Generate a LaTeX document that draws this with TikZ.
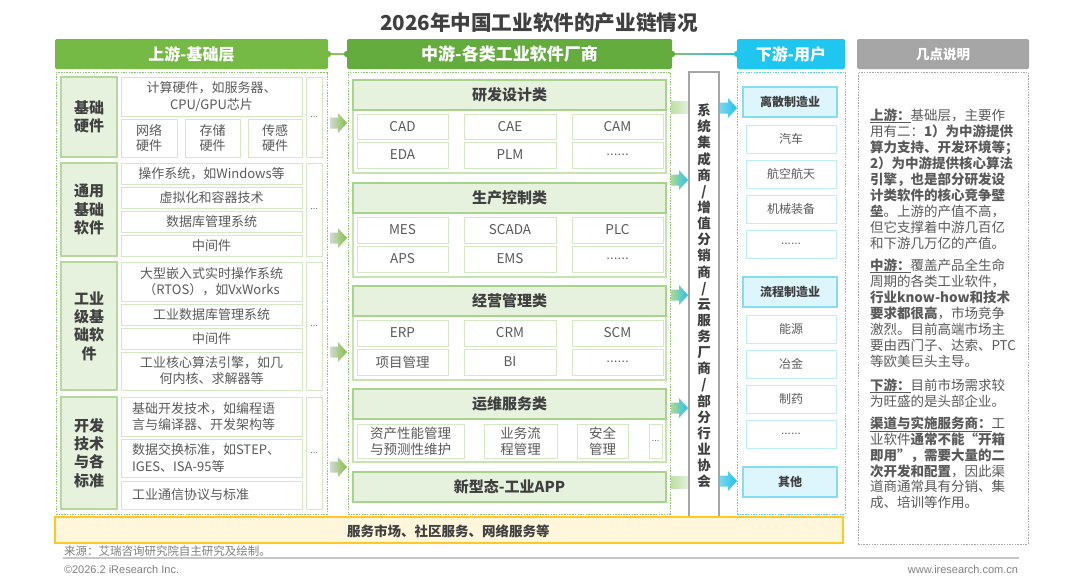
\documentclass[tikz,border=0pt]{standalone}
\usepackage{fontspec}
\setmainfont{Noto Sans CJK SC}
\newfontfamily\latinf{Liberation Sans}
\definecolor{upg}{HTML}{74BA45}
\definecolor{midg}{HTML}{63AC3D}
\definecolor{cyanh}{HTML}{1EC6F0}
\definecolor{grayh}{HTML}{A6A6A6}
\definecolor{txt}{HTML}{5A5A5A}
\definecolor{txtd}{HTML}{404040}
\definecolor{labfill}{HTML}{E6F2DD}
\definecolor{labdraw}{HTML}{B4D99B}
\definecolor{cdraw}{HTML}{D2E9C2}
\definecolor{mcdraw}{HTML}{C6E3B0}
\definecolor{mhfill}{HTML}{E6F2DE}
\definecolor{mhdraw}{HTML}{A8D38B}
\definecolor{dhfill}{HTML}{DDF5FD}
\definecolor{dhdraw}{HTML}{86DCF4}
\definecolor{ddraw}{HTML}{BDEEFA}
\definecolor{ylfill}{HTML}{FFF6DB}
\definecolor{yldraw}{HTML}{FFC825}
\definecolor{dotg}{HTML}{8FC46F}
\definecolor{dotc}{HTML}{55CFF0}
\definecolor{srcg}{HTML}{7F7F7F}
\definecolor{rulec}{HTML}{C8C8C8}
\definecolor{arrgray}{HTML}{D6D6D6}
\definecolor{arrgreen}{HTML}{7FC241}
\definecolor{arrlg}{HTML}{AEDA90}
\definecolor{arrcy}{HTML}{22C2EC}
\definecolor{arrlc}{HTML}{78D6F1}
\definecolor{barl}{HTML}{BFE0A6}
\definecolor{barr}{HTML}{E4F3DA}

\newcommand\bx[7]{\pgfmathsetmacro\bxw{#5-#3}\pgfmathsetmacro\bxh{#6-#4}%
  \node[#2,minimum width=\bxw pt,minimum height=\bxh pt] (#1) at ({(#3+#5)/2},{(#4+#6)/2}) {#7};}
\newcommand\blockarr[4]{%
  \shade[left color=#3,right color=#4] (#1,#2-5.5) -- (#1+8,#2-5.5) -- (#1+8,#2-10) -- (#1+17,#2) -- (#1+8,#2+10) -- (#1+8,#2+5.5) -- (#1,#2+5.5) -- cycle;}
\newcommand\sixdots{{\latinf ......}}

\tikzset{
 every node/.style={inner sep=0pt,outer sep=0pt},
 hdr/.style={fill=#1,text=white,rounded corners=1.5pt,font=\fontsize{16}{19}\selectfont\bfseries},
 dotfrm/.style={draw=#1,line width=0.8pt,dash pattern=on 1.5pt off 1.2pt},
 lab/.style={fill=labfill,draw=labdraw,line width=1.3pt,text=txtd,align=center,font=\fontsize{15}{18.3}\selectfont\bfseries},
 cbox/.style={fill=white,draw=cdraw,line width=1pt,text=txt,align=center,font=\fontsize{13}{16.5}\selectfont},
 cboxl/.style={cbox,align=left,text width=159pt},
 dotbox/.style={fill=white,draw=cdraw,line width=1pt,text=txt,font=\latinf\fontsize{9}{10}\selectfont},
 mcont/.style={fill=white,draw=mcdraw,line width=1.2pt},
 mhd/.style={fill=mhfill,draw=mhdraw,line width=1.5pt,text=txtd,font=\fontsize{15}{18}\selectfont\bfseries},
 mit/.style={fill=white,draw=cdraw,line width=1pt,text=txt,align=center,font=\fontsize{13.5}{16}\selectfont},
 chbox/.style={fill=white,draw=grayh,line width=1.8pt,text=txtd,align=center,font=\fontsize{13.5}{16.13}\selectfont\bfseries},
 dhd/.style={fill=dhfill,draw=dhdraw,line width=1.5pt,text=txtd,font=\fontsize{12}{14}\selectfont\bfseries},
 dit/.style={fill=white,draw=ddraw,line width=1pt,text=txt,font=\fontsize{12}{14}\selectfont},
 ylbox/.style={fill=ylfill,draw=yldraw,line width=1.5pt},
 nt/.style={anchor=base west,text=txt,font=\fontsize{13.5}{16}\selectfont},
}

\begin{document}
\begin{tikzpicture}[x=1pt,y=-1pt]
\useasboundingbox (0,0) rectangle (1080,584);
\fill[white] (0,0) rectangle (1080,584);

% title
\node[font=\fontsize{20.6}{24}\selectfont\bfseries,text=txtd] (title) at (539,23) {2026年中国工业软件的产业链情况};

% headers
\bx{uh}{hdr=upg}{55}{39}{328}{69}{上游-基础层}
\bx{mh}{hdr=midg,font=\fontsize{17}{20}\selectfont\bfseries}{347}{39}{672}{69}{中游-各类工业软件厂商}
\bx{dh}{hdr=cyanh}{737}{39}{845}{69}{下游-用户}
\bx{nh}{hdr=grayh,font=\fontsize{13.5}{16}\selectfont\bfseries}{857}{39}{1029}{69}{几点说明}
\draw[line width=1.3pt,color=upg!85] (uh.east) -- (mh.west);
\shade[left color=midg!75,right color=cyanh] (672,53.3) rectangle (737,54.7);
\fill[upg] (uh.east) circle (3.2);
\fill[midg] (mh.west) circle (3.2);
\fill[midg] (mh.east) circle (3.2);
\fill[cyanh] (dh.west) circle (3.2);

% outer frames
\bx{uf}{dotfrm=dotg}{56}{72}{327}{514}{}
\bx{mf}{dotfrm=dotg}{348}{72}{670}{514}{}
\bx{df}{dotfrm=dotc}{737}{72}{845}{514}{}
\bx{nf}{dotfrm=grayh}{858}{72}{1028}{544}{}

% ---------- upstream ----------
\bx{l1}{lab}{61}{77}{117}{157}{基础\\硬件}
\bx{u11}{cbox}{121}{77}{302}{116}{计算硬件，如服务器、\\CPU/GPU芯片}
\bx{u12}{cbox,font=\fontsize{13}{15.5}\selectfont}{121}{119}{177}{157}{网络\\硬件}
\bx{u13}{cbox,font=\fontsize{13}{15.5}\selectfont}{185}{119}{240}{157}{存储\\硬件}
\bx{u14}{cbox,font=\fontsize{13}{15.5}\selectfont}{248}{119}{302}{157}{传感\\硬件}
\bx{ud1}{dotbox}{306}{77}{322}{157}{...}

\bx{l2}{lab}{61}{163}{117}{256}{通用\\基础\\软件}
\bx{u21}{cbox}{121}{163}{302}{184}{操作系统，如Windows等}
\bx{u22}{cbox}{121}{187}{302}{208}{虚拟化和容器技术}
\bx{u23}{cbox}{121}{211}{302}{232}{数据库管理系统}
\bx{u24}{cbox}{121}{235}{302}{256}{中间件}
\bx{ud2}{dotbox}{306}{163}{322}{256}{...}

\bx{l3}{lab}{61}{262}{117}{390}{工业\\级基\\础软\\件}
\bx{u31}{cbox,font=\fontsize{13}{16}\selectfont}{121}{262}{302}{301}{大型嵌入式实时操作系统\\（RTOS），如VxWorks}
\bx{u32}{cbox}{121}{304}{302}{325}{工业数据库管理系统}
\bx{u33}{cbox}{121}{328}{302}{349}{中间件}
\bx{u34}{cbox,font=\fontsize{13}{16}\selectfont}{121}{352}{302}{390}{工业核心算法引擎，如几\\何内核、求解器等}
\bx{ud3}{dotbox}{306}{262}{322}{390}{...}

\bx{l4}{lab}{61}{397}{117}{509}{开发\\技术\\与各\\标准}
\bx{u41}{cboxl}{121}{397}{302}{436}{基础开发技术，如编程语\\言与编译器、开发架构等}
\bx{u42}{cboxl}{121}{439}{302}{477}{数据交换标准，如STEP、\\IGES、ISA-95等}
\bx{u43}{cboxl}{121}{481}{302}{509}{工业通信协议与标准}
\bx{ud4}{dotbox}{306}{397}{322}{509}{...}

% ---------- midstream ----------
\bx{mc1}{mcont}{353}{80}{666}{173}{}
\bx{mh1}{mhd}{353}{80}{666}{110}{研发设计类}
\bx{m11}{mit}{357}{114}{448}{139}{CAD}
\bx{m12}{mit}{464}{114}{556}{139}{CAE}
\bx{m13}{mit}{572}{114}{663}{139}{CAM}
\bx{m14}{mit}{357}{142}{448}{168}{EDA}
\bx{m15}{mit}{464}{142}{556}{168}{PLM}
\bx{m16}{mit}{572}{142}{663}{168}{\sixdots}

\bx{mc2}{mcont}{353}{183}{666}{277}{}
\bx{mh2}{mhd}{353}{183}{666}{213}{生产控制类}
\bx{m21}{mit}{357}{217}{448}{243}{MES}
\bx{m22}{mit}{464}{217}{556}{243}{SCADA}
\bx{m23}{mit}{572}{217}{663}{243}{PLC}
\bx{m24}{mit}{357}{246}{448}{272}{APS}
\bx{m25}{mit}{464}{246}{556}{272}{EMS}
\bx{m26}{mit}{572}{246}{663}{272}{\sixdots}

\bx{mc3}{mcont}{353}{286}{666}{380}{}
\bx{mh3}{mhd}{353}{286}{666}{316}{经营管理类}
\bx{m31}{mit}{357}{320}{448}{346}{ERP}
\bx{m32}{mit}{464}{320}{556}{346}{CRM}
\bx{m33}{mit}{572}{320}{663}{346}{SCM}
\bx{m34}{mit}{357}{349}{448}{375}{项目管理}
\bx{m35}{mit}{464}{349}{556}{375}{BI}
\bx{m36}{mit}{572}{349}{663}{375}{\sixdots}

\bx{mc4}{mcont}{353}{389}{666}{462}{}
\bx{mh4}{mhd}{353}{389}{666}{419}{运维服务类}
\bx{m41}{mit}{357}{424}{464}{458}{资产性能管理\\与预测性维护}
\bx{m42}{mit}{484}{424}{557}{458}{业务流\\程管理}
\bx{m43}{mit}{577}{424}{628}{458}{安全\\管理}
\bx{m44}{mit,font=\latinf\fontsize{9}{10}\selectfont}{649}{424}{662}{458}{...}

\bx{mh5}{mhd}{353}{472}{666}{502}{新型态-工业APP}

% ---------- arrows ----------
\blockarr{330}{123}{arrgray}{arrgreen}
\blockarr{330}{238}{arrgray}{arrgreen}
\blockarr{330}{352}{arrgray}{arrgreen}
\blockarr{330}{467}{arrgray}{arrgreen}

\shade[left color=barl,right color=barr] (671,101.5) rectangle (689,113.5);
\blockarr{671}{180}{arrlg}{arrcy}
\blockarr{671}{295}{arrlg}{arrcy}
\blockarr{671}{408}{arrlg}{arrcy}
\shade[left color=barl,right color=barr] (671,476) rectangle (689,488);

% ---------- channel ----------
\bx{ch}{chbox}{689}{72}{719}{520}{系\\统\\集\\成\\商\\/\\增\\值\\分\\销\\商\\/\\云\\服\\务\\厂\\商\\/\\部\\分\\行\\业\\协\\会}

\blockarr{720}{108}{arrlc}{arrcy}
\blockarr{720}{481}{arrlc}{arrcy}

% ---------- downstream ----------
\bx{dh1}{dhd}{743}{87}{837}{117}{离散制造业}
\bx{d11}{dit}{746}{125}{836}{153}{汽车}
\bx{d12}{dit}{746}{160}{836}{188}{航空航天}
\bx{d13}{dit}{746}{195}{836}{223}{机械装备}
\bx{d14}{dit}{746}{230}{836}{258}{\sixdots}
\bx{dh2}{dhd}{743}{277}{837}{307}{流程制造业}
\bx{d21}{dit}{746}{315}{836}{343}{能源}
\bx{d22}{dit}{746}{350}{836}{378}{冶金}
\bx{d23}{dit}{746}{385}{836}{413}{制药}
\bx{d24}{dit}{746}{420}{836}{448}{\sixdots}
\bx{dh3}{dhd}{743}{467}{837}{497}{其他}

% ---------- notes ----------
\node[nt] (n1) at (870,120) {\underline{\textbf{上游：}}基础层，主要作};
\node[nt] (n2) at (870,136.1) {用有二：\textbf{1）为中游提供}};
\node[nt] (n3) at (870,152.2) {\textbf{算力支持、开发环境等；}};
\node[nt] (n4) at (870,168.3) {\textbf{2）为中游提供核心算法}};
\node[nt] (n5) at (870,184.4) {\textbf{引擎，也是部分研发设}};
\node[nt] (n6) at (870,200.5) {\textbf{计类软件的核心竞争壁}};
\node[nt] (n7) at (870,216.6) {\textbf{垒}。上游的产值不高，};
\node[nt] (n8) at (870,232.7) {但它支撑着中游几百亿};
\node[nt] (n9) at (870,248.8) {和下游几万亿的产值。};
\node[nt] (n10) at (870,270) {\underline{\textbf{中游：}}覆盖产品全生命};
\node[nt] (n11) at (870,286) {周期的各类工业软件，};
\node[nt] (n12) at (870,302) {\textbf{行业know-how和技术}};
\node[nt] (n13) at (870,318) {\textbf{要求都很高}，市场竞争};
\node[nt] (n14) at (870,334) {激烈。目前高端市场主};
\node[nt] (n15) at (870,350) {要由西门子、达索、PTC};
\node[nt] (n16) at (870,366) {等欧美巨头主导。};
\node[nt] (n17) at (870,390) {\underline{\textbf{下游：}}目前市场需求较};
\node[nt] (n18) at (870,406) {为旺盛的是头部企业。};
\node[nt] (n19) at (870,428) {\underline{\textbf{渠道与实施服务商：}}工};
\node[nt] (n20) at (870,444) {业软件\textbf{通常不能“开箱}};
\node[nt] (n21) at (870,460) {\textbf{即用”，需要大量的二}};
\node[nt] (n22) at (870,476) {\textbf{次开发和配置}，因此渠};
\node[nt] (n23) at (870,491.5) {道商通常具有分销、集};
\node[nt] (n24) at (870,507) {成、培训等作用。};

% ---------- bottom band ----------
\bx{yl}{ylbox}{55}{517}{843}{543}{}
\node[anchor=west,text=txtd,font=\fontsize{13.5}{16}\selectfont\bfseries] (yltext) at (347,531) {服务市场、社区服务、网络服务等};

% ---------- footer ----------
\node[anchor=west,text=srcg,font=\fontsize{11.5}{13}\selectfont] (src) at (64,551) {来源：艾瑞咨询研究院自主研究及绘制。};
\draw[rulec,line width=1.5pt] (63,558) -- (1019,558);
\node[anchor=west,text=srcg,font=\latinf\fontsize{11}{13}\selectfont] (copy) at (64,570) {©2026.2 iResearch Inc.};
\node[anchor=east,text=srcg,font=\latinf\fontsize{11}{13}\selectfont] (url) at (1018,570) {www.iresearch.com.cn};
\end{tikzpicture}
\end{document}
